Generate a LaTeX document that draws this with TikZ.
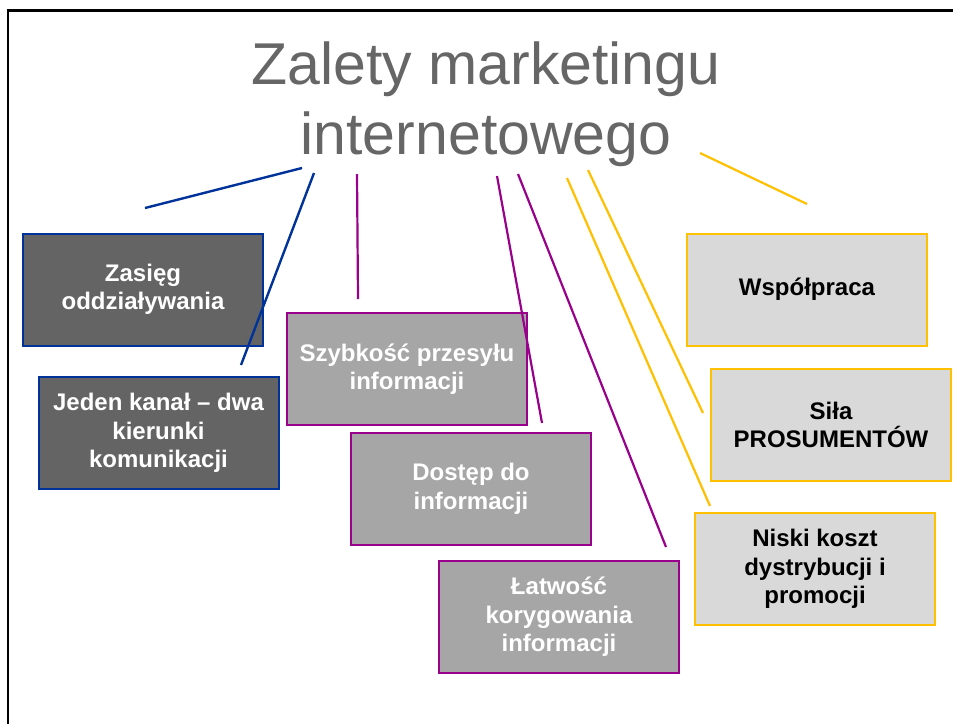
\documentclass[tikz,border=0pt]{standalone}
\usepackage{fontspec}
\setmainfont{Liberation Sans}
\definecolor{myblue}{RGB}{0,51,153}
\definecolor{mypurple}{RGB}{153,0,140}
\definecolor{myyellow}{RGB}{255,192,0}
\definecolor{dkgray}{RGB}{100,100,100}
\definecolor{mdgray}{RGB}{166,166,166}
\definecolor{ltgray}{RGB}{217,217,217}
\definecolor{titlegray}{RGB}{102,102,102}
\begin{document}
\begin{tikzpicture}[x=1pt,y=-1pt,
  box/.style={rectangle, minimum width=240pt, minimum height=112pt, line width=2pt,
    align=center, inner sep=0pt, font=\bfseries\fontsize{24}{28.5}\selectfont},
  darkbox/.style={box, fill=dkgray, draw=myblue, text=white},
  midbox/.style={box, fill=mdgray, draw=mypurple, text=white},
  lightbox/.style={box, fill=ltgray, draw=myyellow, text=black},
  bline/.style={draw=myblue, line width=2.4pt},
  pline/.style={draw=mypurple, line width=2.2pt},
  yline/.style={draw=myyellow, line width=2.2pt}]
\useasboundingbox (0,0) rectangle (953,724);
\fill[white] (0,0) rectangle (953,724);
% slide frame
\coordinate (fbl) at (8,724);
\coordinate (ftl) at (8,10.5);
\coordinate (ftr) at (953,10.5);
\draw[line width=2.6pt, black] (fbl) -- (ftl) -- (ftr);
% title
\node[anchor=north, align=center, inner sep=0pt, text=titlegray,
  font=\fontsize{59}{70}\selectfont] (title) at (486,42) {Zalety marketingu\\internetowego};
% boxes
\node[darkbox] (zasieg) at (143,289.5) {Zasięg\\oddziaływania};
\node[darkbox] (jeden) at (158.5,433) {Jeden kanał – dwa\\kierunki\\komunikacji};
\node[midbox] (szyb) at (407,369) {Szybkość przesyłu\\informacji};
\node[midbox] (dostep) at (471,489) {Dostęp do\\informacji};
\node[midbox] (latw) at (559,617) {Łatwość\\korygowania\\informacji};
\node[lightbox] (wspol) at (807,289.5) {Współpraca};
\node[lightbox] (sila) at (831,425) {Siła\\PROSUMENTÓW};
\node[lightbox] (niski) at (815,569) {Niski koszt\\dystrybucji i\\promocji};
% connector ends
\coordinate (b1s) at (302,168); \coordinate (b1e) at (145,208);
\coordinate (b2s) at (314,173); \coordinate (b2e) at (241,365);
\coordinate (p1s) at (357,174); \coordinate (p1e) at (358,299);
\coordinate (p2s) at (497,176); \coordinate (p2e) at (542,423);
\coordinate (p3s) at (518,174); \coordinate (p3e) at (666,547);
\coordinate (y1s) at (567,178); \coordinate (y1e) at (710,506);
\coordinate (y2s) at (588,170); \coordinate (y2e) at (703,413);
\coordinate (y3s) at (700,153); \coordinate (y3e) at (807,204);
\draw[bline] (b1s) -- (b1e);
\draw[bline] (b2s) -- (b2e);
\draw[pline] (p1s) -- (p1e);
\draw[pline] (p2s) -- (p2e);
\draw[pline] (p3s) -- (p3e);
\draw[yline] (y1s) -- (y1e);
\draw[yline] (y2s) -- (y2e);
\draw[yline] (y3s) -- (y3e);
\end{tikzpicture}
\end{document}
